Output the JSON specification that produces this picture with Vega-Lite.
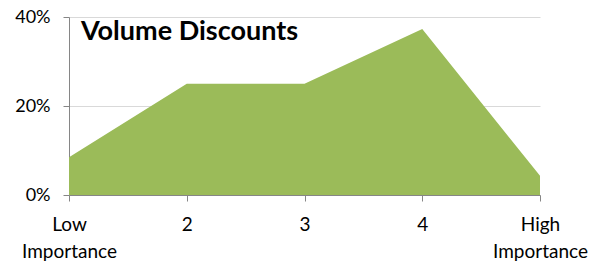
{
  "$schema": "https://vega.github.io/schema/vega-lite/v6.json",
  "autosize": "none",
  "width": 471,
  "height": 178,
  "padding": {"left": 69, "top": 17, "right": 58, "bottom": 67},
  "background": "white",
  "title": {
    "text": "Volume Discounts",
    "anchor": "start",
    "frame": "group",
    "orient": "top",
    "baseline": "alphabetic",
    "offset": 0,
    "dx": 12,
    "dy": 59,
    "font": "Lato",
    "fontSize": 27,
    "fontWeight": "bold",
    "color": "#000000"
  },
  "data": {
    "values": [
      {"importance": 1, "share": 0.085},
      {"importance": 2, "share": 0.25},
      {"importance": 3, "share": 0.25},
      {"importance": 4, "share": 0.373},
      {"importance": 5, "share": 0.043}
    ]
  },
  "mark": {"type": "area", "color": "#9BBB59", "opacity": 1},
  "encoding": {
    "x": {
      "field": "importance",
      "type": "quantitative",
      "scale": {"domain": [1, 5], "nice": false, "zero": false},
      "axis": {
        "title": null,
        "values": [1, 2, 3, 4, 5],
        "labelExpr": "datum.value == 1 ? ['Low', 'Importance'] : datum.value == 5 ? ['High', 'Importance'] : datum.label",
        "grid": false,
        "domainColor": "#868686",
        "tickColor": "#868686",
        "tickSize": 6,
        "labelPadding": 14,
        "labelFont": "Lato",
        "labelFontSize": 19,
        "labelColor": "#000000",
        "labelLineHeight": 27,
        "labelFlush": false,
        "labelOverlap": false
      }
    },
    "y": {
      "field": "share",
      "type": "quantitative",
      "scale": {"domain": [0, 0.4], "nice": false},
      "axis": {
        "title": null,
        "values": [0, 0.2, 0.4],
        "format": ".0%",
        "grid": true,
        "gridColor": "#D9D9D9",
        "domainColor": "#868686",
        "tickColor": "#868686",
        "tickSize": 6,
        "labelPadding": 13,
        "labelFont": "Lato",
        "labelFontSize": 18,
        "labelColor": "#000000",
        "labelFlush": false
      }
    }
  },
  "config": {"view": {"stroke": null}}
}
